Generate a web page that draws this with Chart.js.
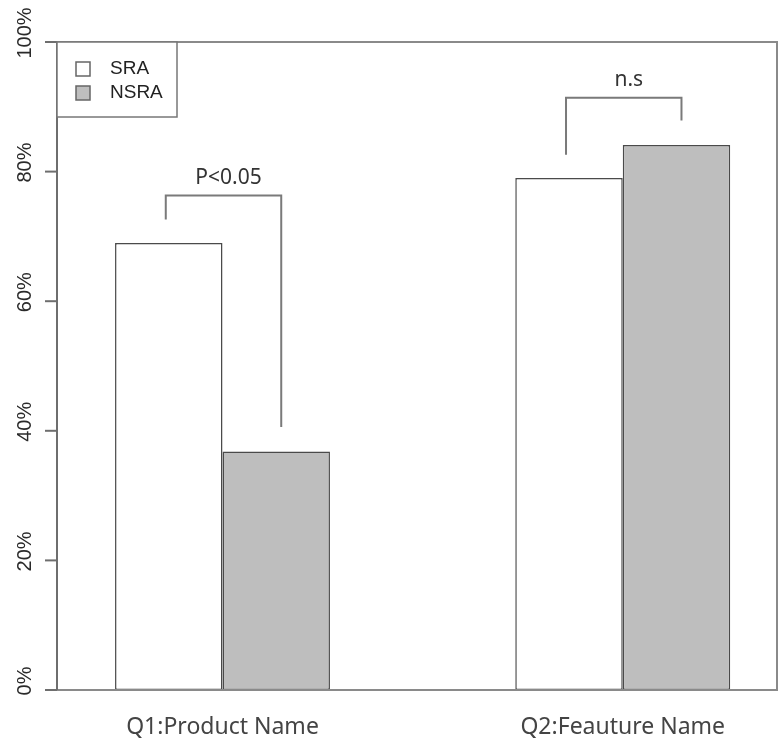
<!DOCTYPE html>
<html>
<head>
<meta charset="utf-8">
<script src="https://cdn.jsdelivr.net/npm/chart.js@4.4.0/dist/chart.umd.min.js"></script>
<style>
  html, body { margin: 0; padding: 0; background: #ffffff; }
  #wrap { width: 779px; height: 742px; }
</style>
</head>
<body>
<div id="wrap"><canvas id="chart" width="779" height="742"></canvas></div>
<script>
// Share of correct answers per question, by group
const categories = ['Q1:Product Name', 'Q2:Feauture Name'];
const seriesNames = ['SRA', 'NSRA'];
const sraValues = [69, 79];
const nsraValues = [36.8, 84.1];
const significance = ['P<0.05', 'n.s'];
const yTicks = [0, 20, 40, 60, 80, 100];

const fills = ['#ffffff', '#bebebe'];
const lineGrey = '#6e6e6e';

const toPoints = vals => vals.map((v, i) => ({ x: i + 1, y: v }));

// Frame, y axis, legend and significance brackets drawn around the bars
const framePlugin = {
  id: 'frame',
  afterDatasetsDraw(chart) {
    const ctx = chart.ctx;
    const { left, right, top, bottom } = chart.chartArea;
    const y = chart.scales.y;
    ctx.save();

    // box around plot region
    ctx.strokeStyle = '#8a8a8a';
    ctx.lineWidth = 2;
    ctx.beginPath();
    ctx.moveTo(left, top); ctx.lineTo(right, top); ctx.lineTo(right, bottom); ctx.lineTo(left, bottom);
    ctx.stroke();

    // y axis with outward ticks and rotated labels
    ctx.strokeStyle = lineGrey;
    ctx.beginPath();
    ctx.moveTo(left, y.getPixelForValue(yTicks[0]));
    ctx.lineTo(left, y.getPixelForValue(yTicks[yTicks.length - 1]));
    ctx.stroke();
    ctx.fillStyle = '#2a2a2a';
    ctx.font = '20px "Liberation Sans", Arial, sans-serif';
    ctx.textAlign = 'center';
    ctx.textBaseline = 'middle';
    yTicks.forEach(v => {
      const py = y.getPixelForValue(v);
      ctx.beginPath();
      ctx.moveTo(left - 12, py); ctx.lineTo(left, py);
      ctx.stroke();
      ctx.save();
      ctx.translate(left - 32, py - 9);
      ctx.rotate(-Math.PI / 2);
      ctx.fillText(v + '%', 0, 0);
      ctx.restore();
    });

    // legend in the top-left corner
    const lgW = 120, lgH = 75;
    ctx.fillStyle = '#ffffff';
    ctx.fillRect(left, top, lgW, lgH);
    ctx.strokeStyle = '#777777';
    ctx.lineWidth = 1.5;
    ctx.strokeRect(left, top, lgW, lgH);
    ctx.font = '19px "Liberation Sans", Arial, sans-serif';
    ctx.textAlign = 'left';
    chart.data.datasets.forEach((ds, i) => {
      const cy = top + 27 + i * 24;
      ctx.fillStyle = ds.backgroundColor;
      ctx.fillRect(left + 19, cy - 7, 14, 14);
      ctx.strokeStyle = '#666666';
      ctx.strokeRect(left + 19, cy - 7, 14, 14);
      ctx.fillStyle = '#222222';
      ctx.fillText(ds.label, left + 53, cy);
    });

    // significance brackets above each pair of bars
    ctx.strokeStyle = '#7a7a7a';
    ctx.lineWidth = 2;
    ctx.fillStyle = '#333333';
    ctx.font = '21px "Noto Sans", "Open Sans", sans-serif';
    ctx.textAlign = 'center';
    ctx.textBaseline = 'middle';
    categories.forEach((c, j) => {
      const a = chart.getDatasetMeta(0).data[j];
      const b = chart.getDatasetMeta(1).data[j];
      const va = sraValues[j], vb = nsraValues[j];
      const topPx = y.getPixelForValue(Math.max(va, vb) + 7.3);
      ctx.beginPath();
      ctx.moveTo(a.x - 3, y.getPixelForValue(va + 3.6));
      ctx.lineTo(a.x - 3, topPx);
      ctx.lineTo(b.x + 5, topPx);
      ctx.lineTo(b.x + 5, y.getPixelForValue(vb + 3.8));
      ctx.stroke();
      ctx.fillText(significance[j], (a.x + b.x) / 2 + 6, topPx - 18);
    });

    ctx.restore();
  }
};

new Chart(document.getElementById('chart'), {
  type: 'bar',
  data: {
    datasets: [
      { label: seriesNames[0], data: toPoints(sraValues), backgroundColor: fills[0] },
      { label: seriesNames[1], data: toPoints(nsraValues), backgroundColor: fills[1] }
    ]
  },
  options: {
    responsive: false,
    animation: false,
    devicePixelRatio: 1,
    layout: { padding: { left: 57, right: 2, top: 42, bottom: 0 } },
    datasets: {
      bar: {
        borderColor: '#4a4a4a',
        borderWidth: 1.5,
        borderSkipped: false,
        categoryPercentage: 0.537,
        barPercentage: 1
      }
    },
    plugins: {
      legend: { display: false },
      tooltip: { enabled: false }
    },
    scales: {
      x: {
        type: 'linear',
        offset: false,
        min: 0.5865,
        max: 2.3854,
        grid: { display: false, offset: false },
        border: { display: false },
        afterBuildTicks: s => { s.ticks = categories.map((c, i) => ({ value: i + 1 })); },
        afterFit: s => { s.height = 52; },
        ticks: {
          padding: 16,
          color: '#444444',
          font: { family: '"Noto Sans", "Open Sans", sans-serif', size: 23 },
          callback: v => categories[v - 1]
        }
      },
      y: {
        display: false,
        min: 0,
        max: 100
      }
    }
  },
  plugins: [framePlugin]
});
</script>
</body>
</html>
